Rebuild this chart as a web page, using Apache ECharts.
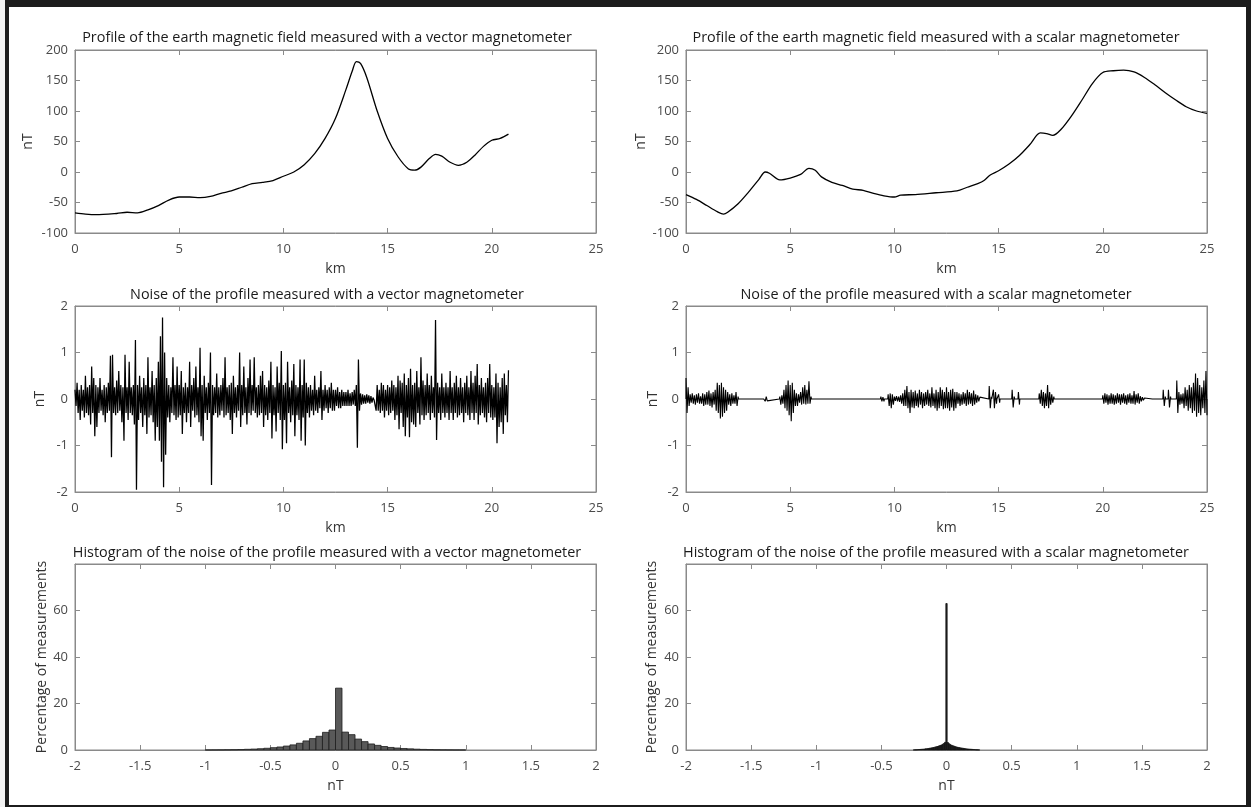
<!DOCTYPE html>
<html>
<head>
<meta charset="utf-8">
<title>Magnetometer profiles</title>
<script src="https://cdn.jsdelivr.net/npm/echarts@6/dist/echarts.min.js"></script>
<style>
  body { margin: 0; background: #f2f2f2; }
  #frame { position: absolute; left: 5px; top: 0; width: 1246px; height: 807px; background: #1c1c1c; }
  #paper { position: absolute; left: 9px; top: 7px; width: 1237px; height: 798px; background: #fff; }
  #chart { position: absolute; left: 0; top: 0; width: 1251px; height: 807px; }
</style>
</head>
<body>
<div id="frame"></div>
<div id="paper"></div>
<div id="chart"></div>
<script>
// profile of the field, vector magnetometer (km, nT)
var vecKm = [0,0.5,1,2,2.5,3,3.5,4,4.5,5,5.5,6,6.5,7,7.5,8,8.5,9,9.5,10,
  10.5,11,11.5,12,12.5,13,13.3,13.5,13.7,14,14.5,15,15.5,16,16.3,16.6,17,17.3,17.6,18,
  18.4,18.8,19.2,19.6,20,20.4,20.8];
var vecNT = [-67,-69,-70,-68,-66,-67,-62,-55,-46,-41,-41,-42,-40,-35,-31,-25,-19,-17,-14,-7,
  0,12,30,55,88,135,165,181,178,155,100,55,25,5,3,8,22,29,26,16,
  11,16,28,42,52,55,62];

// profile of the field, scalar magnetometer (km, nT)
var scalKm = [0,0.5,1,1.5,1.8,2,2.5,3,3.5,3.8,4,4.5,5,5.5,5.9,6.2,6.5,7,7.5,8,
  8.5,9,9.5,10,10.3,11,12,13,13.5,14,14.3,14.6,15,15.5,16,16.5,17,17.3,17.6,18,
  18.5,19,19.5,20,20.5,21,21.5,22,22.5,23,23.5,24,24.5,25];
var scalNT = [-37,-45,-55,-65,-69,-66,-52,-33,-12,0,-2,-13,-10,-4,6,3,-8,-17,-22,-28,
  -30,-35,-39,-41,-38,-37,-34,-31,-25,-19,-14,-5,2,13,27,45,64,63,60,70,
  92,118,145,163,166,167,164,155,143,130,118,107,100,96];

// noise of the vector profile, one value every 0.05 km, one line per km
var vecNoiseStep = 0.05;
var vecNoise = [
  0.2,-0.15,0.35,-0.3,0.2,-0.45,0.3,-0.25,0.2,-0.4,0.5,-0.3,0.25,-0.35,0.3,-0.55,0.7,-0.3,0.45,-0.8,
  0.3,-0.6,0.25,-0.3,0.45,-0.25,0.2,-0.35,0.3,-0.5,0.25,-0.3,0.35,-0.25,0.93,-1.25,0.95,-0.3,0.25,-0.35,
  0.4,-0.3,0.6,-0.25,0.3,-0.5,0.25,-0.9,0.95,-0.3,0.25,-0.45,0.8,-0.3,0.25,-0.35,0.3,-0.55,1.27,-1.95,
  0.3,-0.45,0.5,-0.3,0.25,-0.6,0.45,-0.35,0.3,-0.75,0.9,-0.4,0.25,-0.35,0.6,-0.5,0.3,-0.9,0.45,-0.6,
  0.8,-0.9,1.35,-1.35,1.75,-1.9,1.0,-1.2,0.45,-0.4,0.3,-0.5,0.25,-0.3,0.9,-0.35,0.3,-0.45,0.7,-0.4,
  0.3,-0.35,0.6,-0.75,0.25,-0.3,0.35,-0.5,0.25,-0.3,0.8,-0.6,0.3,-0.25,0.45,-0.4,0.7,-0.35,0.25,-0.5,
  1.1,-0.8,0.3,-0.9,0.5,-0.3,0.25,-0.45,0.35,-0.3,1.0,-1.85,0.3,-0.35,0.25,-0.3,0.55,-0.4,0.25,-0.35,
  0.3,-0.25,0.45,-0.4,0.9,-0.35,0.25,-0.3,0.3,-0.45,0.35,-0.75,0.5,-0.3,0.25,-0.4,0.3,-0.25,1.0,-0.6,
  0.3,-0.35,0.7,-0.3,0.25,-0.55,0.45,-0.3,0.85,-0.35,0.3,-0.25,0.9,-0.3,0.25,-0.4,0.3,-0.35,0.5,-0.3,
  0.6,-0.6,0.3,-0.35,0.25,-0.45,0.4,-0.3,0.8,-0.85,0.3,-0.35,0.25,-0.7,0.7,-0.3,0.35,-0.45,1.03,-1.08,
  0.3,-0.45,0.35,-0.95,0.8,-0.3,0.25,-0.5,0.4,-0.35,0.75,-0.8,0.3,-0.35,0.25,-0.45,0.85,-0.9,0.3,-0.4,
  0.85,-1.0,0.35,-0.3,0.25,-0.4,0.3,-0.25,0.2,-0.35,0.5,-0.25,0.2,-0.3,0.25,-0.2,0.6,-0.45,0.2,-0.25,
  0.3,-0.2,0.2,-0.3,0.25,-0.2,0.35,-0.25,0.2,-0.25,0.2,-0.15,0.25,-0.2,0.15,-0.2,0.2,-0.15,0.15,-0.15,
  0.15,-0.15,0.2,-0.15,0.12,-0.15,0.15,-0.12,0.2,-0.15,0.3,-1.05,0.85,-0.25,0.12,-0.12,0.1,-0.1,0.08,-0.1,
  0.1,-0.08,0.08,-0.1,0.06,-0.08,0.03,-0.02,0.02,-0.25,0.3,-0.25,0.2,-0.3,0.35,-0.25,0.3,-0.4,0.2,-0.25,
  0.3,-0.35,0.25,-0.3,0.4,-0.25,0.3,-0.45,0.25,-0.35,0.5,-0.65,0.4,-0.3,0.35,-0.6,0.55,-0.8,0.3,-0.4,
  0.45,-0.82,0.65,-0.5,0.3,-0.55,0.35,-0.6,0.6,-0.3,0.25,-0.55,0.9,-0.35,0.4,-0.45,0.3,-0.35,0.55,-0.3,
  0.3,-0.45,0.5,-0.3,0.25,-0.4,1.7,-0.88,0.35,-0.3,0.25,-0.45,0.55,-0.3,0.25,-0.4,0.35,-0.3,0.25,-0.45,
  0.6,-0.3,0.25,-0.45,0.35,-0.3,0.5,-0.4,0.25,-0.35,0.45,-0.3,0.25,-0.5,0.35,-0.3,0.5,-0.35,0.25,-0.45,
  0.6,-0.3,0.35,-0.45,0.5,-0.3,0.75,-0.55,0.3,-0.35,0.45,-0.3,0.25,-0.4,0.35,-0.5,0.45,-0.3,0.75,-0.4,
  0.3,-0.45,0.25,-0.4,0.55,-0.95,0.35,-0.6,0.25,-0.5,0.45,-0.75,0.55,-0.35,0.3,-0.5,0.62
];

// noise of the scalar profile: bursts [start km, values every 0.05 km], zero elsewhere
var scalNoiseStep = 0.05;
var scalBursts = [
  [0.0, [0.45,-0.3,0.25,-0.15,0.1,-0.08,0.12,-0.1,0.08,-0.12,
         0.1,-0.08,0.12,-0.1,0.06,-0.1,0.12,-0.15,0.1,-0.12,
         0.15,-0.12,0.18,-0.15,0.12,-0.18,0.15,-0.12,0.2,-0.25,
         0.35,-0.3,0.3,-0.42,0.35,-0.38,0.25,-0.3,0.2,-0.25,
         0.15,-0.12,0.1,-0.15,0.12,-0.1,0.08,-0.1,0.15,-0.15,0.05]],
  [3.75, [0.04,-0.05,0.05,-0.04]],
  [4.5, [0.05,-0.12,0.08,-0.1,0.2,-0.2,0.3,-0.25,0.4,-0.35,0.3,-0.48,0.35,-0.3,0.2,-0.15,
         0.12,-0.15,0.1,-0.08,0.15,-0.12,0.25,-0.1,0.3,-0.12,0.2,-0.1,0.38,-0.1,0.05]],
  [7.2, [0.02,-0.02]], [7.6, [0.03,-0.02]], [8.0, [0.02,-0.03]], [8.4, [0.02,-0.02]],
  [8.8, [0.03,-0.03]], [9.1, [0.03,-0.02]], [9.35, [0.05,-0.05,0.04,-0.05]],
  [9.7, [0.1,-0.15,0.12,-0.2,0.1,-0.12,
         0.05,-0.04,0.06,-0.05,0.05,-0.06,0.08,-0.1,0.12,-0.15,
         0.2,-0.15,0.28,-0.2,0.15,-0.3,0.2,-0.18,0.15,-0.2,
         0.18,-0.15,0.12,-0.18,0.2,-0.12,0.15,-0.2,0.12,-0.15,
         0.15,-0.12,0.2,-0.15,0.12,-0.18,0.25,-0.15,0.12,-0.2,
         0.2,-0.25,0.15,-0.2,0.25,-0.15,0.2,-0.22,0.15,-0.2,
         0.25,-0.2,0.15,-0.25,0.2,-0.18,0.22,-0.25,0.15,-0.2,
         0.15,-0.1,0.12,-0.15,0.1,-0.12,0.15,-0.1,0.12,-0.15,
         0.2,-0.12,0.15,-0.1,0.12,-0.15,0.18,-0.12,0.1,-0.08,
         0.08,-0.05,0.04]],
  [14.55, [0.28,-0.2,0.05]], [14.75, [0.2,-0.2,0.15,-0.1]], [15.0, [0.1,-0.08]],
  [15.65, [0.2,-0.18,0.05]], [15.95, [0.15,-0.12]],
  [16.95, [0.12,-0.1,0.2,-0.15,0.15,-0.2,0.12,-0.15,0.3,-0.2,0.15,-0.12,0.1,-0.08,0.05]],
  [18.6, [0.02,-0.02]],
  [20.0, [0.08,-0.1,0.12,-0.08,0.1,-0.12,0.08,-0.1,0.12,-0.1,
          0.1,-0.12,0.08,-0.1,0.12,-0.08,0.1,-0.12,0.1,-0.08,
          0.12,-0.1,0.08,-0.12,0.1,-0.08,0.12,-0.1,0.08,-0.1,
          0.17,-0.12,0.1,-0.08,0.12,-0.1,0.06,-0.05,0.04,-0.03,0.02]],
  [22.4, [0.03,-0.02]],
  [22.9, [0.2,-0.15,0.05]], [23.15, [0.2,-0.18,0.05]],
  [23.55, [0.4,-0.3,0.15,-0.12,0.1,-0.1,0.12,-0.2,0.25,-0.15,
           0.2,-0.25,0.3,-0.2,0.25,-0.3,0.35,-0.25,0.55,-0.38,
           0.45,-0.3,0.3,-0.35,0.25,-0.2,0.4,-0.3,0.6,-0.35]]
];

// histograms (percentage of measurements per bin)
var vecHistStart = -1.0, vecHistBin = 0.05;
var vecHist = [0.03,0.05,0.07,0.1,0.14,0.2,0.3,0.4,0.55,0.75,
  1.0,1.3,1.7,2.2,2.9,3.9,4.9,5.9,7.6,8.6,
  26.6,7.7,6.6,4.7,3.6,2.6,2.0,1.5,1.1,0.85,
  0.65,0.5,0.36,0.26,0.18,0.12,0.08,0.06,0.04,0.03];
var scalHistStart = -0.255, scalHistBin = 0.01;
var scalHist = [0.05,0.08,0.1,0.15,0.2,0.25,0.3,0.35,0.4,0.5,0.55,0.65,0.75,0.85,0.95,1.05,1.2,1.35,1.5,1.7,1.9,2.1,2.4,2.8,3.3,
  63,
  3.2,2.7,2.3,2.0,1.8,1.6,1.4,1.25,1.1,1.0,0.9,0.8,0.7,0.6,0.5,0.45,0.4,0.35,0.3,0.25,0.2,0.15,0.1,0.08,0.05];

var kmTicks = {min: 0, max: 25, interval: 5};
var nTTicks = {min: -2, max: 2, interval: 0.5};

var titles = [
  'Profile of the earth magnetic field measured with a vector magnetometer',
  'Profile of the earth magnetic field measured with a scalar magnetometer',
  'Noise of the profile measured with a vector magnetometer',
  'Noise of the profile measured with a scalar magnetometer',
  'Histogram of the noise of the profile measured with a vector magnetometer',
  'Histogram of the noise of the profile measured with a scalar magnetometer'
];

var FONT = '"Open Sans", "Noto Sans", sans-serif';
var axisGray = '#8a8a8a';
var labelGray = '#4a4a4a';

// grid boxes: [left, top, width, height]
var boxes = [
  [75, 50, 521, 183], [686, 50, 521, 183],
  [75, 306, 521, 186], [686, 306, 521, 186],
  [75, 564, 521, 186], [686, 564, 521, 186]
];
var titleX = [327, 936, 327, 936, 327, 936];
var titleY = [31, 31, 288, 288, 546, 546];
var yNameGap = [40, 38, 28, 26, 25, 27];

function zip(xs, ys) {
  return xs.map(function (x, i) { return [x, ys[i]]; });
}
function stepSeries(values, step, start) {
  return values.map(function (v, i) { return [+(start + i * step).toFixed(3), v]; });
}
function burstSeries(bursts, step, end) {
  var out = [[0, 0]];
  bursts.forEach(function (b) {
    var s = b[0], vals = b[1];
    if (s > 0) out.push([s - 0.02, 0]);
    vals.forEach(function (v, i) { out.push([s + i * step, v]); });
    var e = s + (vals.length - 1) * step;
    if (e < end) out.push([e + 0.02, 0]);
  });
  out.push([end, 0]);
  return out;
}
function histData(values, start, bin) {
  return values.map(function (v, i) {
    var s = start + i * bin;
    return [s, s + bin, v];
  });
}

var tickStyle = {show: true, inside: true, length: 5, lineStyle: {color: axisGray, width: 1}};
var lineStyle = {show: true, onZero: false, lineStyle: {color: axisGray, width: 1}};

var grids = [], xAxes = [], yAxes = [], titleOpts = [];
boxes.forEach(function (b, g) {
  grids.push({left: b[0], top: b[1], width: b[2], height: b[3], show: true,
    borderColor: axisGray, borderWidth: 1, backgroundColor: 'transparent'});
  var row = Math.floor(g / 2);
  var xt = row < 2 ? kmTicks : nTTicks;
  var xName = row < 2 ? 'km' : 'nT';
  var yt = row === 0 ? {min: -100, max: 200, interval: 50}
         : row === 1 ? {min: -2, max: 2, interval: 1}
         : {min: 0, max: 80, interval: 20};
  var yName = row < 2 ? 'nT' : 'Percentage of measurements';
  xAxes.push({gridIndex: g, type: 'value', position: 'bottom', min: xt.min, max: xt.max, interval: xt.interval,
    name: xName, nameLocation: 'middle', nameGap: 29,
    nameTextStyle: {color: '#333', fontSize: 14, fontFamily: FONT},
    axisLine: lineStyle, axisTick: tickStyle, splitLine: {show: false},
    axisLabel: {color: labelGray, fontSize: 13, fontFamily: FONT, margin: 10, showMinLabel: true, showMaxLabel: true}});
  xAxes.push({gridIndex: g, type: 'value', position: 'top', min: xt.min, max: xt.max, interval: xt.interval,
    axisLine: lineStyle, axisTick: tickStyle, splitLine: {show: false}, axisLabel: {show: false}});
  yAxes.push({gridIndex: g, type: 'value', position: 'left', min: yt.min, max: yt.max, interval: yt.interval,
    name: yName, nameLocation: 'middle', nameGap: yNameGap[g],
    nameTextStyle: {color: '#333', fontSize: 14, fontFamily: FONT},
    axisLine: lineStyle, axisTick: tickStyle, splitLine: {show: false},
    axisLabel: {color: labelGray, fontSize: 13, fontFamily: FONT, margin: 7, showMinLabel: true, showMaxLabel: true,
      formatter: function (v) { return (row === 2 && v === 80) ? '' : String(v); }}});
  yAxes.push({gridIndex: g, type: 'value', position: 'right', min: yt.min, max: yt.max, interval: yt.interval,
    axisLine: lineStyle, axisTick: tickStyle, splitLine: {show: false}, axisLabel: {show: false}});
  titleOpts.push({text: titles[g], left: titleX[g], top: titleY[g], textAlign: 'center', padding: 0,
    textStyle: {color: '#1a1a1a', fontSize: 14.4, fontWeight: 'normal', fontFamily: FONT}});
});

function lineSeries(g, data, width, smooth) {
  return {type: 'line', xAxisIndex: 2 * g, yAxisIndex: 2 * g, data: data, showSymbol: false,
    smooth: smooth, sampling: null, lineStyle: {color: '#000', width: width}, z: 3};
}
function histSeries(g, data, fill, stroke) {
  return {type: 'custom', xAxisIndex: 2 * g, yAxisIndex: 2 * g, data: data,
    encode: {x: [0, 1], y: 2},
    renderItem: function (params, api) {
      var p0 = api.coord([api.value(0), api.value(2)]);
      var p1 = api.coord([api.value(1), 0]);
      return {type: 'rect', shape: {x: p0[0], y: p0[1], width: p1[0] - p0[0], height: p1[1] - p0[1]},
        style: {fill: fill, stroke: stroke, lineWidth: 0.8}};
    }, z: 3};
}

var option = {
  animation: false,
  backgroundColor: 'transparent',
  title: titleOpts,
  grid: grids,
  xAxis: xAxes,
  yAxis: yAxes,
  series: [
    lineSeries(0, zip(vecKm, vecNT), 1.3, 0.3),
    lineSeries(1, zip(scalKm, scalNT), 1.3, 0.3),
    lineSeries(2, stepSeries(vecNoise, vecNoiseStep, 0), 1.25, false),
    lineSeries(3, burstSeries(scalBursts, scalNoiseStep, 25), 1.1, false),
    histSeries(4, histData(vecHist, vecHistStart, vecHistBin), '#595959', '#1e1e1e'),
    histSeries(5, histData(scalHist, scalHistStart, scalHistBin), '#222', '#111')
  ]
};

var chart = echarts.init(document.getElementById('chart'));
chart.setOption(option);
</script>
</body>
</html>
